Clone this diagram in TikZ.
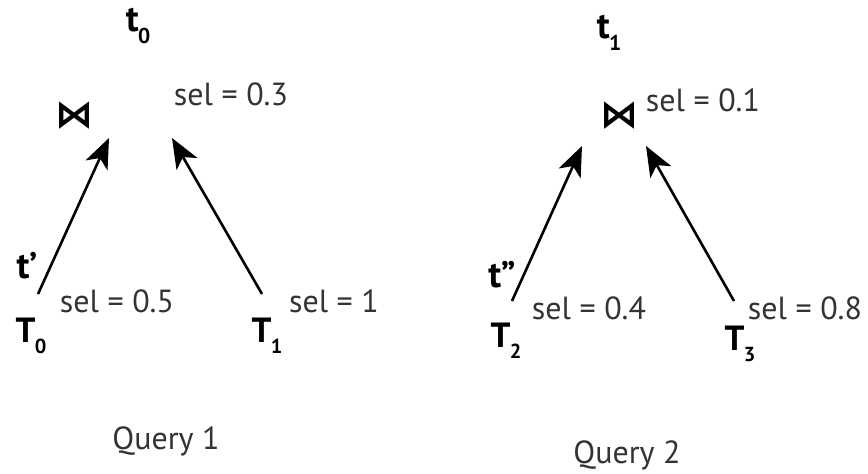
\documentclass[tikz,border=0pt]{standalone}
\usepackage{fontspec}
\setmainfont{PT Sans}
\newfontfamily\symfont{DejaVu Sans}
\usetikzlibrary{arrows.meta}
\newcommand\mysub[1]{\kern-0.02em\raisebox{-0.32em}{\scalebox{0.58}{#1}}}
\begin{document}
\begin{tikzpicture}[x=1pt,y=-1pt,
  sellbl/.style={font=\fontsize{32}{36}\selectfont, text=black!80, inner sep=0pt},
  rellbl/.style={font=\fontsize{35}{38}\selectfont\bfseries, inner sep=0pt},
  tuplbl/.style={font=\fontsize{37}{40}\selectfont\bfseries, inner sep=0pt},
  joinop/.style={font=\fontsize{38}{42}\selectfont\symfont\bfseries, inner sep=0pt},
  qlbl/.style={font=\fontsize{32}{36}\selectfont, text=black!80, inner sep=0pt},
  edge/.style={line width=2.6pt, -{Stealth[length=30pt,width=24pt,inset=8pt]}}]
\useasboundingbox (0,0) rectangle (868,474);
% Query 1
\node[tuplbl] (t0) at (138,26) {t\mysub{0}};
\node[joinop] (j1) at (74,116) {⋈};
\node[sellbl] (s03) at (231,94) {sel = 0.3};
\node[tuplbl] (tp) at (27,266) {t’};
\node[rellbl] (T0) at (31,336) {T\mysub{0}};
\node[rellbl] (T1) at (267,336) {T\mysub{1}};
\node[sellbl] (s05) at (117,301) {sel = 0.5};
\node[sellbl] (s1) at (334,301) {sel = 1};
\node[qlbl] (q1) at (166,441) {Query 1};
\coordinate (a1s) at (38,294);
\coordinate (a1e) at (109,138);
\coordinate (b1s) at (262,294);
\coordinate (b1e) at (172,138);
\draw[edge] (a1s) -- (a1e);
\draw[edge] (b1s) -- (b1e);
% Query 2
\node[tuplbl] (t1) at (609,33) {t\mysub{1}};
\node[joinop] (j2) at (619,116) {⋈};
\node[sellbl] (s01) at (703,100) {sel = 0.1};
\node[tuplbl] (tpp) at (502,275) {t”};
\node[rellbl] (T2) at (506,341) {T\mysub{2}};
\node[rellbl] (T3) at (740,344) {T\mysub{3}};
\node[sellbl] (s04) at (589,308) {sel = 0.4};
\node[sellbl] (s08) at (805,308) {sel = 0.8};
\node[qlbl] (q2) at (627,455) {Query 2};
\coordinate (a2s) at (512,301);
\coordinate (a2e) at (582,146);
\coordinate (b2s) at (734,301);
\coordinate (b2e) at (646,146);
\draw[edge] (a2s) -- (a2e);
\draw[edge] (b2s) -- (b2e);
\end{tikzpicture}
\end{document}
